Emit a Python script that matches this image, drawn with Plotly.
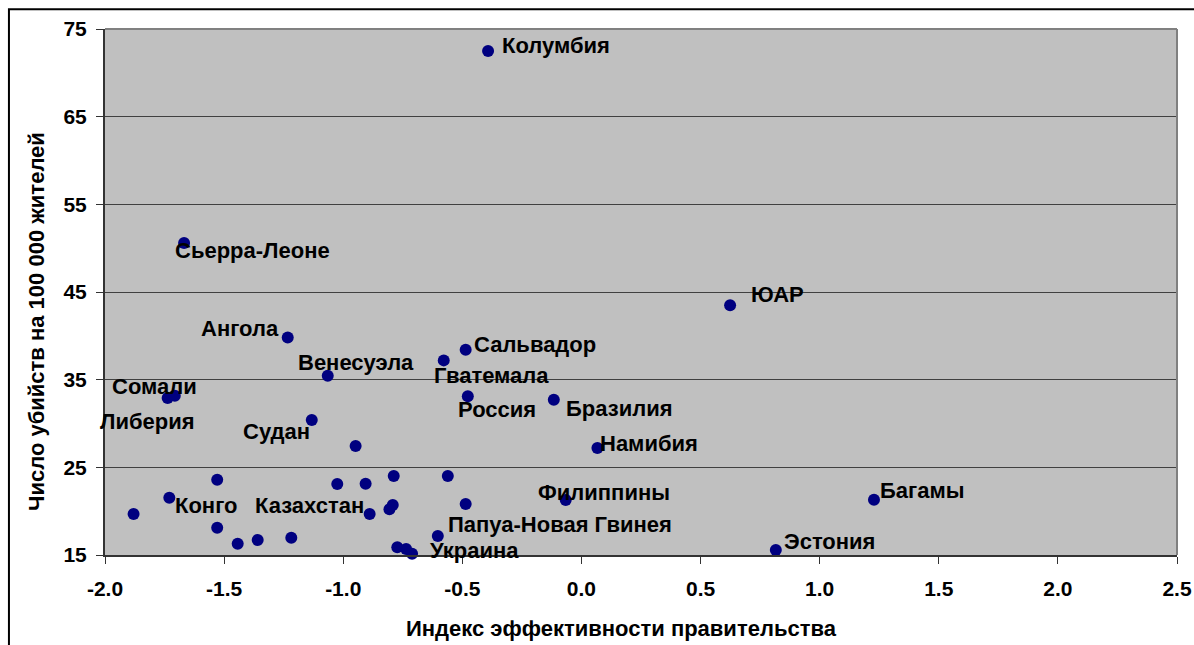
import plotly.graph_objects as go

# ---- data ----
countries = [
    "Колумбия", "Сьерра-Леоне", "ЮАР", "Ангола", "Венесуэла", "Сальвадор",
    "Гватемала", "Россия", "Бразилия", "Намибия", "Филиппины", "Эстония",
    "Багамы", "Сомали", "Либерия", "Судан", "", "", "Конго", "", "", "", "",
    "", "", "", "", "", "", "", "", "Казахстан", "Папуа-Новая Гвинея", "", "",
    "Украина",
]
gov_effectiveness = [
    -0.392, -1.668, 0.624, -1.233, -1.065, -0.486,
    -0.578, -0.477, -0.116, 0.067, -0.066, 0.816,
    1.228, -1.707, -1.737, -1.132, -0.948, -1.529, -1.730, -1.880, -1.529,
    -1.443, -1.359, -1.218, -1.025, -0.906, -0.788, -0.561, -0.486, -0.792,
    -0.806, -0.889, -0.603, -0.773, -0.736, -0.711,
]
homicides = [
    72.5, 50.6, 43.5, 39.8, 35.45, 38.4,
    37.2, 33.1, 32.7, 27.2, 21.27, 15.57,
    21.3, 33.17, 32.9, 30.4, 27.43, 23.59, 21.54, 19.68, 18.11,
    16.29, 16.71, 16.97, 23.1, 23.13, 24.01, 24.01, 20.82, 20.70,
    20.21, 19.68, 17.17, 15.88, 15.68, 15.15,
]
x_ticks = [-2.0, -1.5, -1.0, -0.5, 0.0, 0.5, 1.0, 1.5, 2.0, 2.5]
y_ticks = [15, 25, 35, 45, 55, 65, 75]
x_title = "Индекс эффективности правительства"
y_title = "Число убийств на 100 000 жителей"

# ---- label placement (style: anchor, pixel shifts) ----
label_style = {
    "Колумбия": ("left", 12, 5),
    "Сьерра-Леоне": ("left", -11, -8),
    "ЮАР": ("left", 19, 11),
    "Ангола": ("right", -7, 9),
    "Венесуэла": ("left", -32, 13),
    "Сальвадор": ("left", 6, 5),
    "Гватемала": ("left", -12, -15),
    "Россия": ("left", -12, -13),
    "Бразилия": ("left", 10, -9),
    "Намибия": ("left", 1, 5),
    "Филиппины": ("left", -30, 8),
    "Эстония": ("left", 6, 9),
    "Багамы": ("left", 4, 9),
    "Сомали": ("left", -65, 9),
    "Либерия": ("right", 29, -23),
    "Судан": ("right", 0, -12),
    "Конго": ("left", 4, -8),
    "Казахстан": ("right", -4, 8),
    "Папуа-Новая Гвинея": ("left", 8, 11),
    "Украина": ("left", 16, 3),
}

FONT = "Liberation Sans, Arial, sans-serif"
LBL = 22

fig = go.Figure()
fig.add_trace(go.Scatter(
    x=gov_effectiveness, y=homicides, mode="markers",
    marker=dict(color="#000080", size=12, line=dict(width=0)),
    hovertext=countries, showlegend=False, cliponaxis=False,
))

annotations = []
for name, xv, yv in zip(countries, gov_effectiveness, homicides):
    if not name:
        continue
    anchor, dx, dy = label_style[name]
    annotations.append(dict(
        x=xv, y=yv, xref="x", yref="y", text=name, showarrow=False,
        xanchor=anchor, yanchor="middle", xshift=dx, yshift=dy,
        font=dict(family=FONT, size=LBL, color="#000000", weight="bold"),
    ))

annotations.append(dict(
    x=(621 - 105) / 1072, y=(555 - 628) / 526, xref="paper", yref="paper",
    text=x_title, showarrow=False, xanchor="center", yanchor="middle",
    font=dict(family=FONT, size=22, color="#000000", weight="bold"),
))
annotations.append(dict(
    x=(37 - 105) / 1072, y=(555 - 322) / 526, xref="paper", yref="paper",
    text=y_title, showarrow=False, xanchor="center", yanchor="middle",
    textangle=-90,
    font=dict(family=FONT, size=22, color="#000000", weight="bold"),
))

shapes = [
    # outer chart frame (clipped by page at right/bottom)
    dict(type="path", xref="paper", yref="paper",
         path="M -0.0896,-0.3 L -0.0896,1.0375 L 1.2,1.0375",
         line=dict(color="#000000", width=2)),
    # plot area border top/right
    dict(type="line", xref="paper", yref="paper", x0=0, x1=1, y0=1, y1=1,
         line=dict(color="#808080", width=2)),
    dict(type="line", xref="paper", yref="paper", x0=1, x1=1, y0=0, y1=1,
         line=dict(color="#808080", width=2)),
]

fig.update_layout(
    width=1194, height=645,
    margin=dict(l=105, r=17, t=29, b=90, autoexpand=False),
    paper_bgcolor="#FFFFFF", plot_bgcolor="#C0C0C0",
    annotations=annotations, shapes=shapes,
    font=dict(family=FONT, color="#000000"),
)
fig.update_xaxes(
    range=[-2.0, 2.5], tickvals=x_ticks, automargin=False,
    ticktext=[f"{v:.1f}" for v in x_ticks],
    showgrid=False, zeroline=False,
    showline=True, linecolor="#333333", linewidth=2,
    ticks="outside", ticklen=7, tickcolor="#333333", tickwidth=1,
    ticklabelstandoff=7,
    tickfont=dict(family=FONT, size=21, color="#000000", weight="bold"),
)
fig.update_yaxes(
    range=[15, 75], tickvals=y_ticks, automargin=False,
    showgrid=True, gridcolor="#404040", gridwidth=1, zeroline=False,
    showline=True, linecolor="#333333", linewidth=2,
    ticks="outside", ticklen=7, tickcolor="#333333", tickwidth=1,
    ticklabelstandoff=5,
    tickfont=dict(family=FONT, size=21, color="#000000", weight="bold"),
)

fig.write_html(
    "out.html",
    config={"displayModeBar": False},
    post_script="document.body.style.margin='0';document.body.style.overflow='hidden';",
)
